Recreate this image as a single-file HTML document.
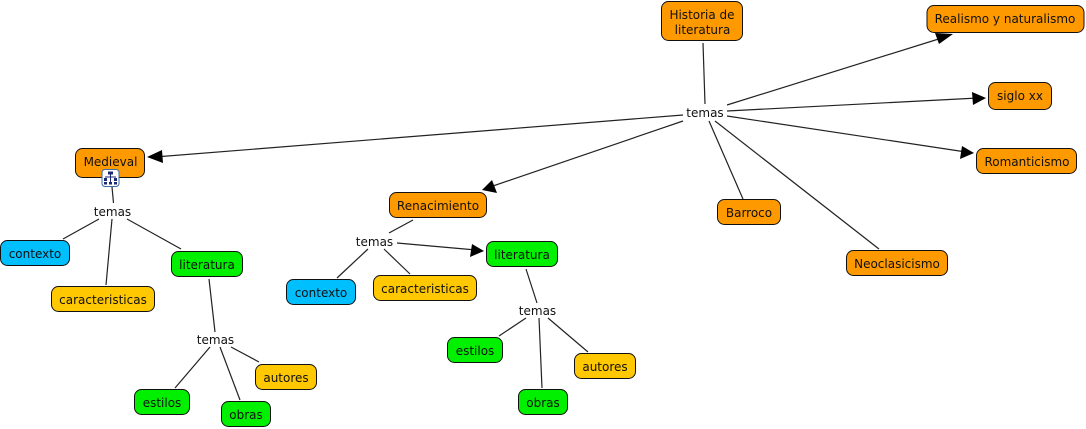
<!DOCTYPE html>
<html><head><meta charset="utf-8"><style>
html,body{margin:0;padding:0;background:#fff;width:1086px;height:429px;overflow:hidden}
svg{display:block}
text{font-family:"DejaVu Sans",sans-serif;font-size:12px;text-anchor:middle;fill:#111;transform:translateY(1px)}
.n rect{stroke:#111;stroke-width:1}
.o rect{fill:#ff9900}.g rect{fill:#00f000}.y rect{fill:#ffc800}.b rect{fill:#00bfff}
line{stroke:#222;stroke-width:1.2}
polygon{fill:#000}
</style></head><body>
<svg width="1086" height="429" viewBox="0 0 1086 429" xmlns="http://www.w3.org/2000/svg">
<g>
<line x1="703" y1="43" x2="705" y2="104"/>
<line x1="727" y1="105" x2="945" y2="37"/>
<line x1="727" y1="111" x2="978" y2="98"/>
<line x1="727" y1="116" x2="966" y2="152"/>
<line x1="709" y1="121" x2="743" y2="199"/>
<line x1="715" y1="121" x2="879" y2="249"/>
<line x1="683" y1="115" x2="155" y2="157"/>
<line x1="683" y1="121" x2="490" y2="187"/>
<line x1="112" y1="187" x2="113.5" y2="203"/>
<line x1="99" y1="219" x2="63" y2="239"/>
<line x1="112" y1="219" x2="106" y2="285"/>
<line x1="127" y1="219" x2="181" y2="249"/>
<line x1="209" y1="279" x2="215" y2="332"/>
<line x1="210" y1="347" x2="175" y2="388"/>
<line x1="220" y1="347" x2="240" y2="400"/>
<line x1="231" y1="347" x2="259" y2="362"/>
<line x1="413" y1="220" x2="389" y2="233"/>
<line x1="368" y1="249" x2="337" y2="278"/>
<line x1="384" y1="249" x2="410" y2="274"/>
<line x1="397" y1="243" x2="476" y2="250"/>
<line x1="526" y1="269" x2="537" y2="303"/>
<line x1="526" y1="318" x2="499" y2="336"/>
<line x1="539" y1="318" x2="542" y2="388"/>
<line x1="548" y1="318" x2="588" y2="352"/>
</g>
<polygon points="953,34 939,44 935,33"/>
<polygon points="986,98 973,105 972,92"/>
<polygon points="974,153 960,159 962,146"/>
<polygon points="147,157 162,150 163,163"/>
<polygon points="482,190 492,180 497,193"/>
<polygon points="484,251 470,257 472,244"/>

<g class="n o"><rect x="661.5" y="1.5" width="81" height="39" rx="7"/><text x="702" y="18">Historia de</text><text x="702.500" y="33">literatura</text></g>
<g class="n o"><rect x="927" y="5.5" width="157" height="27" rx="7"/><text x="1005" y="22">Realismo y naturalismo</text></g>
<g class="n o"><rect x="988.5" y="82.5" width="63" height="27" rx="7"/><text x="1020" y="99">siglo xx</text></g>
<g class="n o"><rect x="976.5" y="148.5" width="100" height="25" rx="7"/><text x="1027" y="165">Romanticismo</text></g>
<g class="n o"><rect x="717.5" y="199.5" width="63" height="25" rx="7"/><text x="749" y="216">Barroco</text></g>
<g class="n o"><rect x="846.5" y="250.5" width="101" height="25" rx="7"/><text x="897" y="267">Neoclasicismo</text></g>
<g class="n o"><rect x="75.5" y="148.5" width="69" height="29" rx="7"/><text x="110.500" y="165">Medieval</text></g>
<g class="n o"><rect x="389.5" y="192.5" width="97" height="25" rx="7"/><text x="438" y="209">Renacimiento</text></g>

<g class="n b"><rect x="0.5" y="240.5" width="69" height="25" rx="7"/><text x="35" y="257">contexto</text></g>
<g class="n y"><rect x="51.5" y="286.5" width="103" height="25" rx="7"/><text x="103" y="303">caracteristicas</text></g>
<g class="n g"><rect x="171.5" y="251.5" width="71" height="25" rx="7"/><text x="207" y="268">literatura</text></g>
<g class="n g"><rect x="134.5" y="389.5" width="55" height="25" rx="7"/><text x="162" y="406">estilos</text></g>
<g class="n g"><rect x="221.5" y="401.5" width="49" height="25" rx="7"/><text x="246" y="418">obras</text></g>
<g class="n y"><rect x="255.5" y="364.5" width="61" height="25" rx="7"/><text x="286" y="381">autores</text></g>

<g class="n b"><rect x="286.5" y="279.5" width="69" height="25" rx="7"/><text x="321" y="296">contexto</text></g>
<g class="n y"><rect x="373.5" y="275.5" width="103" height="25" rx="7"/><text x="425" y="292">caracteristicas</text></g>
<g class="n g"><rect x="486.5" y="241.5" width="71" height="25" rx="7"/><text x="522" y="258">literatura</text></g>
<g class="n g"><rect x="447.5" y="337.5" width="55" height="25" rx="7"/><text x="475" y="354">estilos</text></g>
<g class="n g"><rect x="518.5" y="389.5" width="49" height="25" rx="7"/><text x="543" y="406">obras</text></g>
<g class="n y"><rect x="574.5" y="353.5" width="61" height="25" rx="7"/><text x="605" y="370">autores</text></g>

<text x="705" y="116">temas</text>
<text x="112.5" y="215">temas</text>
<text x="215.5" y="343">temas</text>
<text x="374.5" y="245">temas</text>
<text x="537.5" y="314">temas</text>

<g>
<rect x="102" y="169.500" width="17" height="17" rx="3" fill="#fff" stroke="#3a6ea5" stroke-width="1"/>
<g fill="#1c2a70" stroke="none">
<rect x="108" y="171.500" width="5" height="3"/>
<rect x="110" y="174.500" width="1" height="8"/>
<rect x="105" y="176.500" width="11" height="1"/>
<rect x="104" y="178" width="3" height="3"/>
<rect x="114" y="178" width="3" height="3"/>
<rect x="104" y="182" width="3" height="2.500"/>
<rect x="109" y="182" width="3" height="2.500"/>
<rect x="114" y="182" width="3" height="2.500"/>
</g>
</g>
</svg>
</body></html>
